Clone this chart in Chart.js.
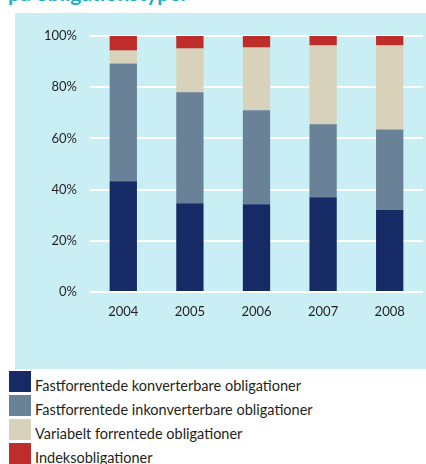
<!DOCTYPE html>
<html>
<head>
<meta charset="utf-8">
<script src="https://cdn.jsdelivr.net/npm/chart.js@4"></script>
<style>
  html, body { margin: 0; padding: 0; background: #fff; width: 426px; height: 464px; overflow: hidden; }
  #title {
    position: absolute; left: 8px; top: -20px;
    font: bold 21px Lato, sans-serif; color: #17b2c8; white-space: nowrap;
  }
  #panel { position: absolute; left: 15px; top: 13px; width: 411px; height: 356px; background: #c9eff4; }
  #legend { position: absolute; left: 9px; top: 371px; font: 14.5px Lato, sans-serif; color: #231f20; }
  .item { position: relative; height: 24px; }
  .box { position: absolute; left: 0; top: 0; width: 22px; height: 21px; }
  .txt { position: absolute; left: 26px; top: 7px; white-space: nowrap; line-height: 16px; }
</style>
</head>
<body>
<div id="title">på obligationstyper</div>
<div id="panel"><canvas id="chart" width="411" height="356"></canvas></div>
<div id="legend"></div>
<script>
const years = ['2004', '2005', '2006', '2007', '2008'];
const seriesNames = [
    'Fastforrentede konverterbare obligationer',
    'Fastforrentede inkonverterbare obligationer',
    'Variabelt forrentede obligationer',
    'Indeksobligationer'
];
const fastKonv = [43.3, 34.7, 34.3, 37.0, 32.0];
const fastInkonv = [46.0, 43.3, 36.7, 28.5, 31.5];
const variabelt = [5.0, 17.1, 24.5, 30.8, 32.8];
const indeks = [5.7, 4.9, 4.5, 3.7, 3.7];
const yTicks = [0, 20, 40, 60, 80, 100];

const colors = ['#162b66', '#6a8298', '#d8d2bb', '#be2d29'];
const values = [fastKonv, fastInkonv, variabelt, indeks];

const ctx = document.getElementById('chart').getContext('2d');

new Chart(ctx, {
    type: 'bar',
    data: {
        labels: years,
        datasets: seriesNames.map((name, i) => ({
            label: name,
            data: values[i],
            backgroundColor: colors[i],
            borderWidth: 0,
            categoryPercentage: 1,
            barPercentage: 0.41
        }))
    },
    options: {
        responsive: false,
        animation: false,
        layout: { padding: { top: 23, right: 3, left: 0, bottom: 0 } },
        plugins: {
            legend: { display: false },
            tooltip: { enabled: false }
        },
        scales: {
            x: {
                stacked: true,
                grid: { display: false, drawTicks: false },
                border: { display: false },
                ticks: {
                    color: '#231f20',
                    padding: 12,
                    font: { family: 'Lato', size: 13 }
                },
                afterFit: function(scale) { scale.height = 77; }
            },
            y: {
                stacked: true,
                min: 0,
                max: 100,
                afterBuildTicks: function(scale) {
                    scale.ticks = yTicks.map(v => ({ value: v }));
                },
                grid: { color: '#ffffff', lineWidth: 2, drawTicks: false },
                border: { display: false },
                ticks: {
                    color: '#231f20',
                    padding: 13,
                    font: { family: 'Lato', size: 13 },
                    callback: function(value) { return value + '%'; }
                },
                afterFit: function(scale) { scale.width = 75; }
            }
        }
    }
});

// legend, one item per line
const legend = document.getElementById('legend');
seriesNames.forEach((name, i) => {
    const item = document.createElement('div');
    item.className = 'item';
    item.innerHTML = '<div class="box" style="background:' + colors[i] + '"></div><div class="txt"></div>';
    item.querySelector('.txt').textContent = name;
    legend.appendChild(item);
});
</script>
</body>
</html>
